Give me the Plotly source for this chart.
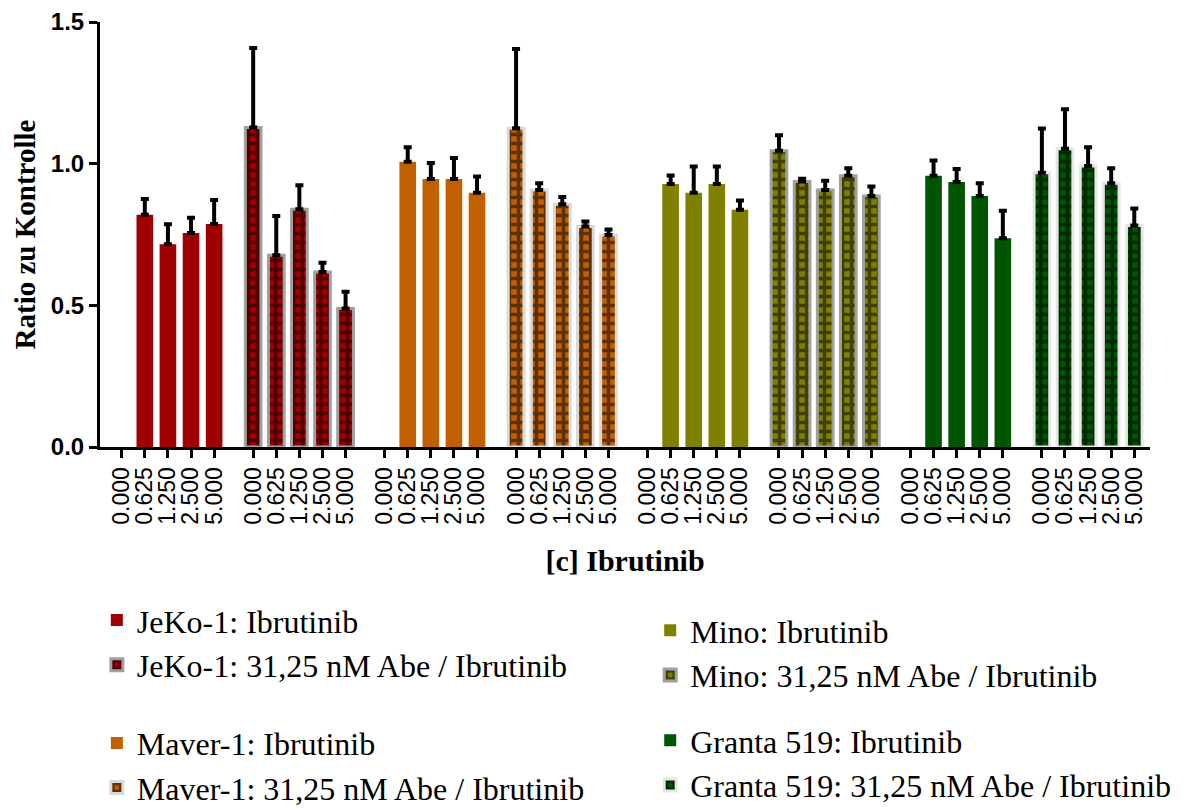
import plotly.graph_objects as go

# ---------------- data ----------------
conc_labels = ["0.000", "0.625", "1.250", "2.500", "5.000"]

jeko_ibr = [None, 0.820, 0.716, 0.755, 0.787]
jeko_ibr_err = [0, 0.055, 0.070, 0.054, 0.085]
jeko_abe = [1.128, 0.677, 0.839, 0.618, 0.489]
jeko_abe_err = [0.280, 0.138, 0.085, 0.032, 0.059]

maver_ibr = [None, 1.007, 0.946, 0.946, 0.897]
maver_ibr_err = [0, 0.051, 0.056, 0.074, 0.058]
maver_abe = [1.125, 0.907, 0.857, 0.778, 0.748]
maver_abe_err = [0.280, 0.024, 0.025, 0.018, 0.020]

mino_ibr = [None, 0.928, 0.897, 0.928, 0.837]
mino_ibr_err = [0, 0.030, 0.093, 0.062, 0.033]
mino_abe = [1.046, 0.937, 0.907, 0.957, 0.886]
mino_abe_err = [0.054, 0.010, 0.033, 0.027, 0.033]

granta_ibr = [None, 0.957, 0.935, 0.886, 0.737]
granta_ibr_err = [0, 0.054, 0.046, 0.045, 0.097]
granta_abe = [0.968, 1.053, 0.992, 0.931, 0.782]
granta_abe_err = [0.156, 0.139, 0.066, 0.053, 0.060]

series = [
    # name, values, errors, color, combo?, outline, legend
    ("JeKo-1: Ibrutinib", jeko_ibr, jeko_ibr_err, "#a00000", False, None, "legend"),
    ("JeKo-1: 31,25 nM Abe / Ibrutinib", jeko_abe, jeko_abe_err, "#a00000", True, "#a0a0a0", "legend"),
    ("Maver-1: Ibrutinib", maver_ibr, maver_ibr_err, "#c06000", False, None, "legend2"),
    ("Maver-1: 31,25 nM Abe / Ibrutinib", maver_abe, maver_abe_err, "#c06000", True, "#d9d9d9", "legend2"),
    ("Mino: Ibrutinib", mino_ibr, mino_ibr_err, "#808000", False, None, "legend3"),
    ("Mino: 31,25 nM Abe / Ibrutinib", mino_abe, mino_abe_err, "#808000", True, "#a0a0a0", "legend3"),
    ("Granta 519: Ibrutinib", granta_ibr, granta_ibr_err, "#005500", False, None, "legend4"),
    ("Granta 519: 31,25 nM Abe / Ibrutinib", granta_abe, granta_abe_err, "#005500", True, "#e6e6e6", "legend4"),
]

GROUP_STEP = 5.69
SERIF = "Liberation Serif"
SANS = "Liberation Sans"

fig = go.Figure()
tickvals, ticktext = [], []
for g, (name, vals, errs, color, combo, outline, leg) in enumerate(series):
    xs = [g * GROUP_STEP + i for i in range(len(conc_labels))]
    tickvals += xs
    ticktext += conc_labels
    marker = dict(color=color, line=dict(width=0))
    if combo:
        marker = dict(
            color=color,
            line=dict(color=outline, width=3),
            pattern=dict(shape="+", fgcolor="black", bgcolor=color, size=9, solidity=0.62),
        )
    fig.add_trace(go.Bar(
        x=xs, y=vals, name=name, width=0.68 if combo else 0.72,
        marker=marker,
        error_y=dict(type="data", symmetric=False, array=errs,
                     arrayminus=[0] * len(errs), color="black", thickness=4, width=4),
        legend=leg, legendgroup=name,
    ))

axis_common = dict(showline=True, linecolor="black", linewidth=3, ticks="outside",
                   ticklen=8, tickwidth=3, tickcolor="black", showgrid=False, zeroline=False,
                   automargin=False)

legend_common = dict(font=dict(family=SERIF, size=32, color="black"), xanchor="left",
                     yanchor="top", bgcolor="rgba(0,0,0,0)", tracegroupgap=15,
                     traceorder="normal")

fig.update_layout(
    width=1188, height=810,
    margin=dict(l=100, r=38, t=22, b=363, autoexpand=False),
    plot_bgcolor="white", paper_bgcolor="white",
    barmode="overlay",
    showlegend=True,
    xaxis=dict(range=[-0.94, 44.51], tickmode="array", tickvals=tickvals, ticktext=ticktext,
               tickangle=-90, tickfont=dict(family=SANS, size=23, color="black"),
               title=dict(text="<b>[c] Ibrutinib</b>", font=dict(family=SERIF, size=30, color="black"),
                          standoff=27),
               **axis_common),
    yaxis=dict(range=[0, 1.5], tickvals=[0, 0.5, 1.0, 1.5], tickformat=".1f",
               tickfont=dict(family=SANS, size=24, color="black", weight="bold"),
               title=dict(text="<b>Ratio zu Kontrolle</b>", font=dict(family=SERIF, size=29, color="black"),
                          standoff=7),
               **axis_common),
    legend=dict(x=-0.003, y=-0.343, **legend_common),
    legend2=dict(x=-0.003, y=-0.632, **{**legend_common, "tracegroupgap": 16}),
    legend3=dict(x=0.524, y=-0.367, **{**legend_common, "tracegroupgap": 17}),
    legend4=dict(x=0.524, y=-0.626, **{**legend_common, "tracegroupgap": 16}),
)

fig.write_html("out.html")
